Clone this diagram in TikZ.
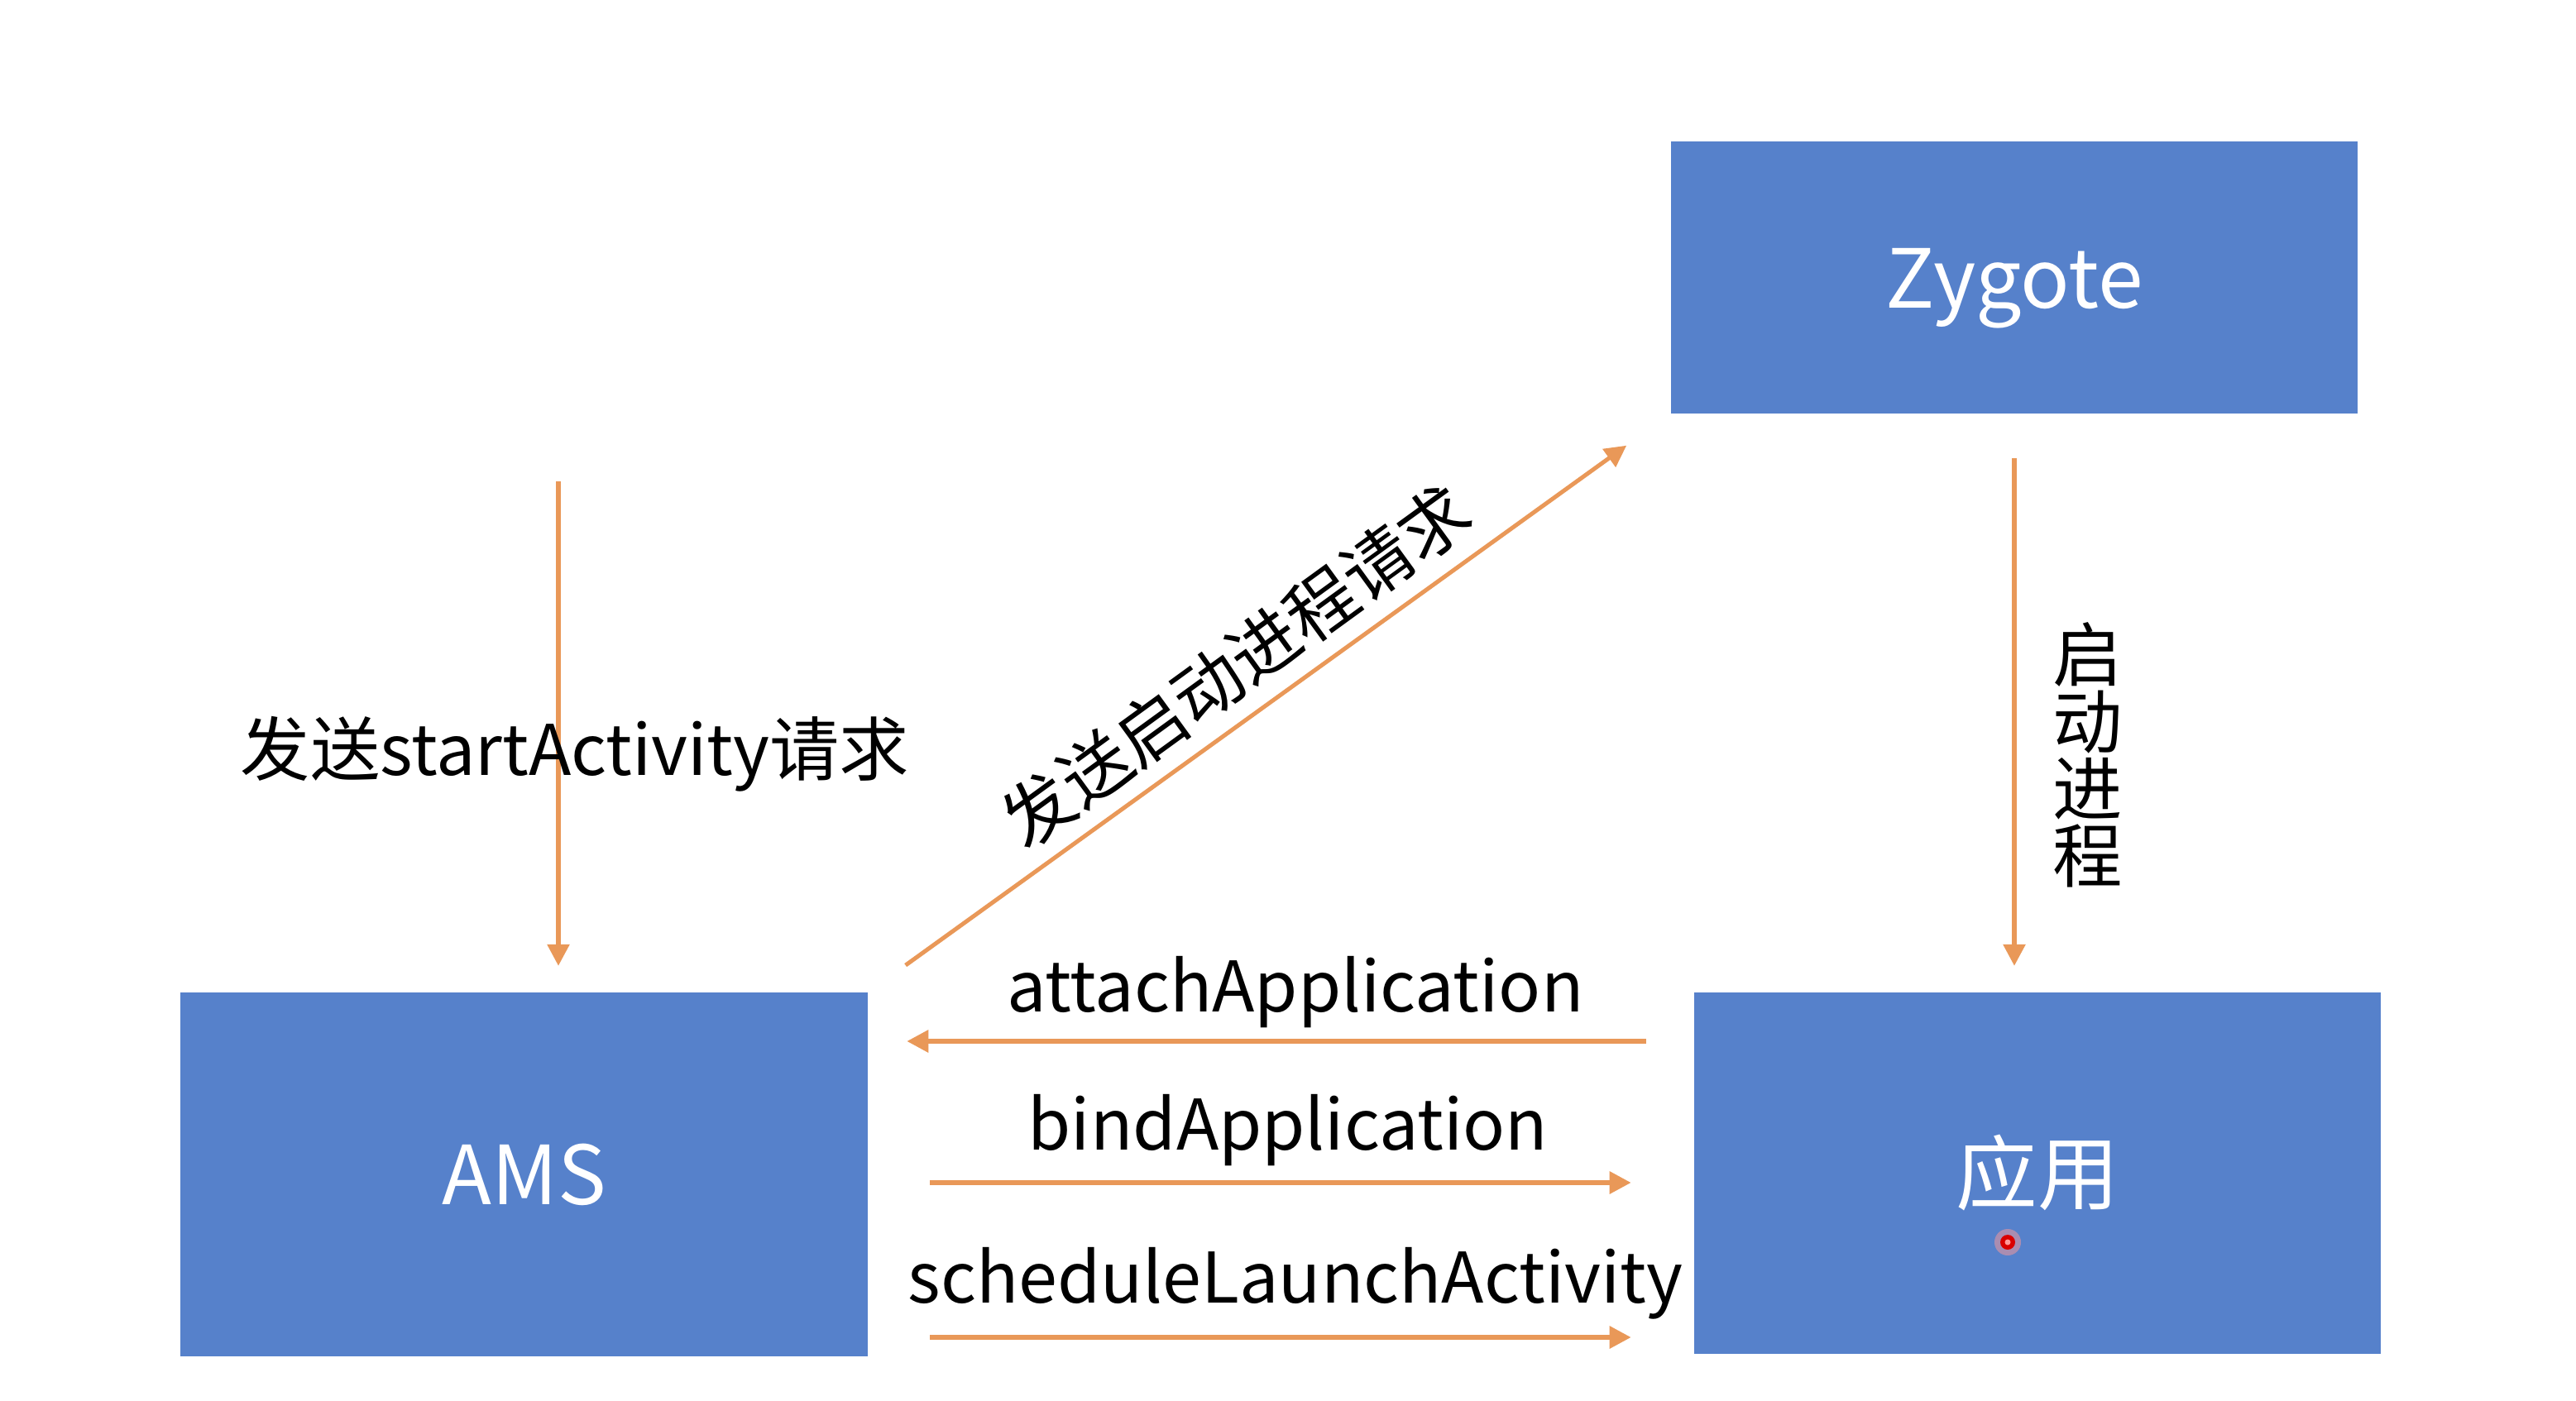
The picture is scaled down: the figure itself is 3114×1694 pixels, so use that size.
\documentclass[tikz,border=0pt]{standalone}
\usepackage{fontspec}
\setmainfont{Noto Sans CJK SC}
\usetikzlibrary{arrows.meta}
\definecolor{boxblue}{RGB}{86,129,203}
\definecolor{arrorange}{RGB}{233,152,88}
\tikzset{
  procbox/.style={rectangle, fill=boxblue, draw=none, inner sep=0pt, outer sep=0pt,
    text=white, font=\fontsize{28}{33}\selectfont},
  flow/.style={draw=arrorange, line width=0.055cm, -{Triangle[length=0.26cm,width=0.26cm]}},
  lbl/.style={text=black, font=\fontsize{24}{29}\selectfont, inner sep=0pt}
}
\begin{document}
\begin{tikzpicture}[x=0.01cm,y=-0.01cm]
\useasboundingbox[fill=white] (0,0) rectangle (3114,1694);
% boxes
\node[procbox, minimum width=8.30cm, minimum height=3.29cm, text height=0.73cm, text depth=0cm] (zyg) at (2435,335.5) {Zygote};
\node[procbox, minimum width=8.31cm, minimum height=4.40cm] (ams) at (633.5,1420) {AMS};
\node[procbox, minimum width=8.30cm, minimum height=4.37cm] (app) at (2463,1418.5) {应用};
% coordinates
\coordinate (s1) at (675,582);
\coordinate (ya) at (0,1259);
\coordinate (yb) at (0,1430);
\coordinate (yc) at (0,1617);
% arrows
\draw[flow, shorten >=0.32cm] (s1) -- (s1 |- ams.north);
\draw[flow, line width=0.05cm, shorten <=0.56cm, shorten >=0.66cm] (ams.north east) -- (zyg.south west);
\draw[flow, shorten <=0.54cm, shorten >=0.32cm] (zyg.south) -- (zyg.south |- app.north);
\draw[flow, line width=0.06cm, shorten <=0.58cm, shorten >=0.47cm] (app.west |- ya) -- (ams.east |- ya);
\draw[flow, line width=0.06cm, shorten <=0.75cm, shorten >=0.76cm] (ams.east |- yb) -- (app.west |- yb);
\draw[flow, line width=0.06cm, shorten <=0.75cm, shorten >=0.76cm] (ams.east |- yc) -- (app.west |- yc);
% labels
\node[lbl, anchor=base] (l1) at (695,937) {发送startActivity请求};
\node[lbl, anchor=center, rotate=36] (l2) at (1494,805) {发送启动进程请求};
\node[lbl, align=center, anchor=center, font=\fontsize{24}{23}\selectfont] (l3) at (2524,913) {启\\动\\进\\程};
\node[lbl, anchor=base] (l4) at (1566,1223) {attachApplication};
\node[lbl, anchor=base] (l5) at (1557,1390) {bindApplication};
\node[lbl, anchor=base] (l6) at (1566,1575) {scheduleLaunchActivity};
% cursor dot
\fill[red!40, opacity=0.5] (2427,1502) circle (0.16cm);
\fill[red!85!black] (2427,1502) circle (0.09cm);
\fill[red!40] (2427,1502) circle (0.035cm);
\end{tikzpicture}
\end{document}
